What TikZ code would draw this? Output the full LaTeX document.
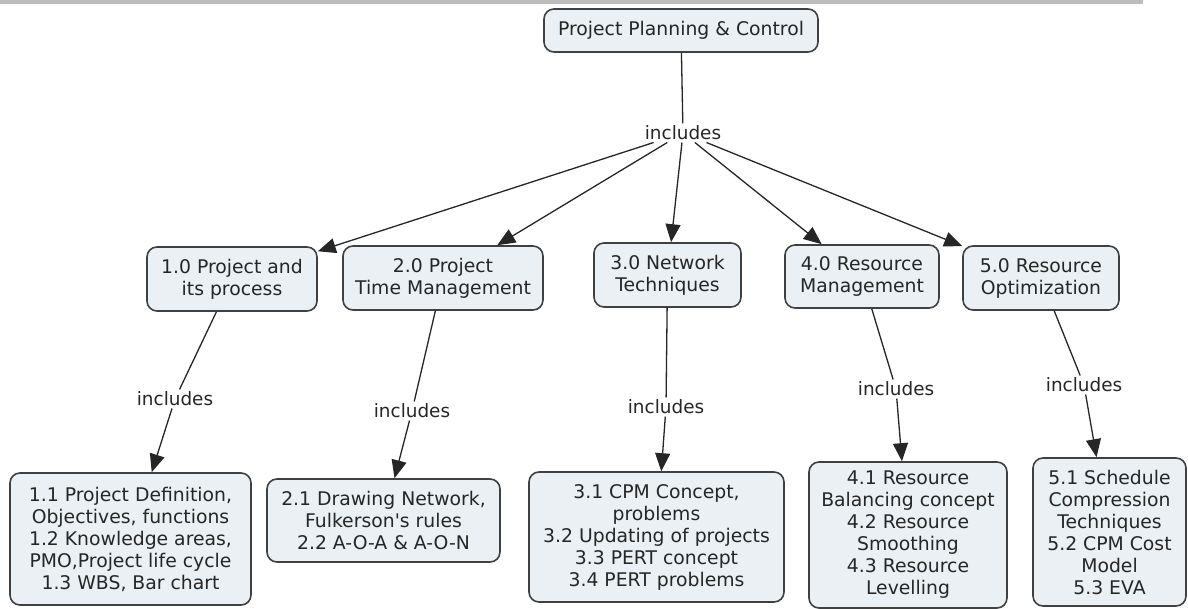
\documentclass[tikz,border=0pt]{standalone}
\usepackage{fontspec}
\setmainfont{DejaVu Sans}
\usetikzlibrary{arrows.meta}
\definecolor{boxfill}{HTML}{EAF0F4}
\definecolor{boxline}{HTML}{404040}
\definecolor{ink}{HTML}{262626}
\definecolor{topbar}{HTML}{BDBDBD}

\begin{document}
\begin{tikzpicture}[x=0.5pt,y=0.5pt,
  concept/.style={draw=boxline,fill=boxfill,line width=0.8pt,rounded corners=5pt,
    align=center,text=ink,inner sep=0pt,font=\fontsize{9.4}{11}\selectfont},
  linkword/.style={fill=white,text=ink,inner sep=1pt,font=\fontsize{9.2}{11}\selectfont},
  link/.style={draw=ink,line width=0.65pt},
  linkto/.style={link,-{Triangle[length=9pt,width=7.5pt]}}]
\useasboundingbox (0,0) rectangle (1188,-609);
\fill [topbar] (0,0) rectangle (1143,-4);
\node [concept,minimum width=137pt,minimum height=21.5pt] (root) at (681,-30.5) {Project Planning \& Control};
\node [linkword] (inc0) at (683,-133) {includes};
\node [concept,minimum width=85pt,minimum height=32pt] (b1) at (232,-279) {1.0 Project and\\its process};
\node [concept,minimum width=100pt,minimum height=32pt] (b2) at (443,-278) {2.0 Project\\Time Management};
\node [concept,minimum width=73.5pt,minimum height=32pt] (b3) at (667.5,-275) {3.0 Network\\Techniques};
\node [concept,minimum width=77pt,minimum height=31.5pt] (b4) at (862,-276.5) {4.0 Resource\\Management};
\node [concept,minimum width=78pt,minimum height=32pt] (b5) at (1041,-278) {5.0 Resource\\Optimization};
\node [linkword] (inc1) at (175,-399) {includes};
\node [linkword] (inc2) at (412,-411) {includes};
\node [linkword] (inc3) at (666,-407) {includes};
\node [linkword] (inc4) at (896,-389) {includes};
\node [linkword] (inc5) at (1084,-385) {includes};
\node [concept,minimum width=120.5pt,minimum height=66pt] (c1) at (130.5,-539) {1.1 Project Definition,\\Objectives, functions\\1.2 Knowledge areas,\\PMO,Project life cycle\\1.3 WBS, Bar chart};
\node [concept,minimum width=116.5pt,minimum height=41.5pt] (c2) at (383.5,-520.5) {2.1 Drawing Network,\\Fulkerson\textquotesingle s rules\\2.2 A-O-A \& A-O-N};
\node [concept,minimum width=127.5pt,minimum height=65pt] (c3) at (656.5,-537) {3.1 CPM Concept,\\problems\\3.2 Updating of projects\\3.3 PERT concept\\3.4 PERT problems};
\node [concept,minimum width=99pt,minimum height=73pt] (c4) at (908,-535) {4.1 Resource\\Balancing concept\\4.2 Resource\\Smoothing\\4.3 Resource\\Levelling};
\node [concept,minimum width=76.5pt,minimum height=74pt] (c5) at (1109.5,-532) {5.1 Schedule\\Compression\\Techniques\\5.2 CPM Cost\\Model\\5.3 EVA};
\draw [link] (root) -- (inc0);
\foreach \i in {1,...,5} {
  \draw [linkto] (inc0) -- (b\i);
  \draw [link] (b\i) -- (inc\i);
  \draw [linkto] (inc\i) -- (c\i);
}
\end{tikzpicture}
\end{document}
